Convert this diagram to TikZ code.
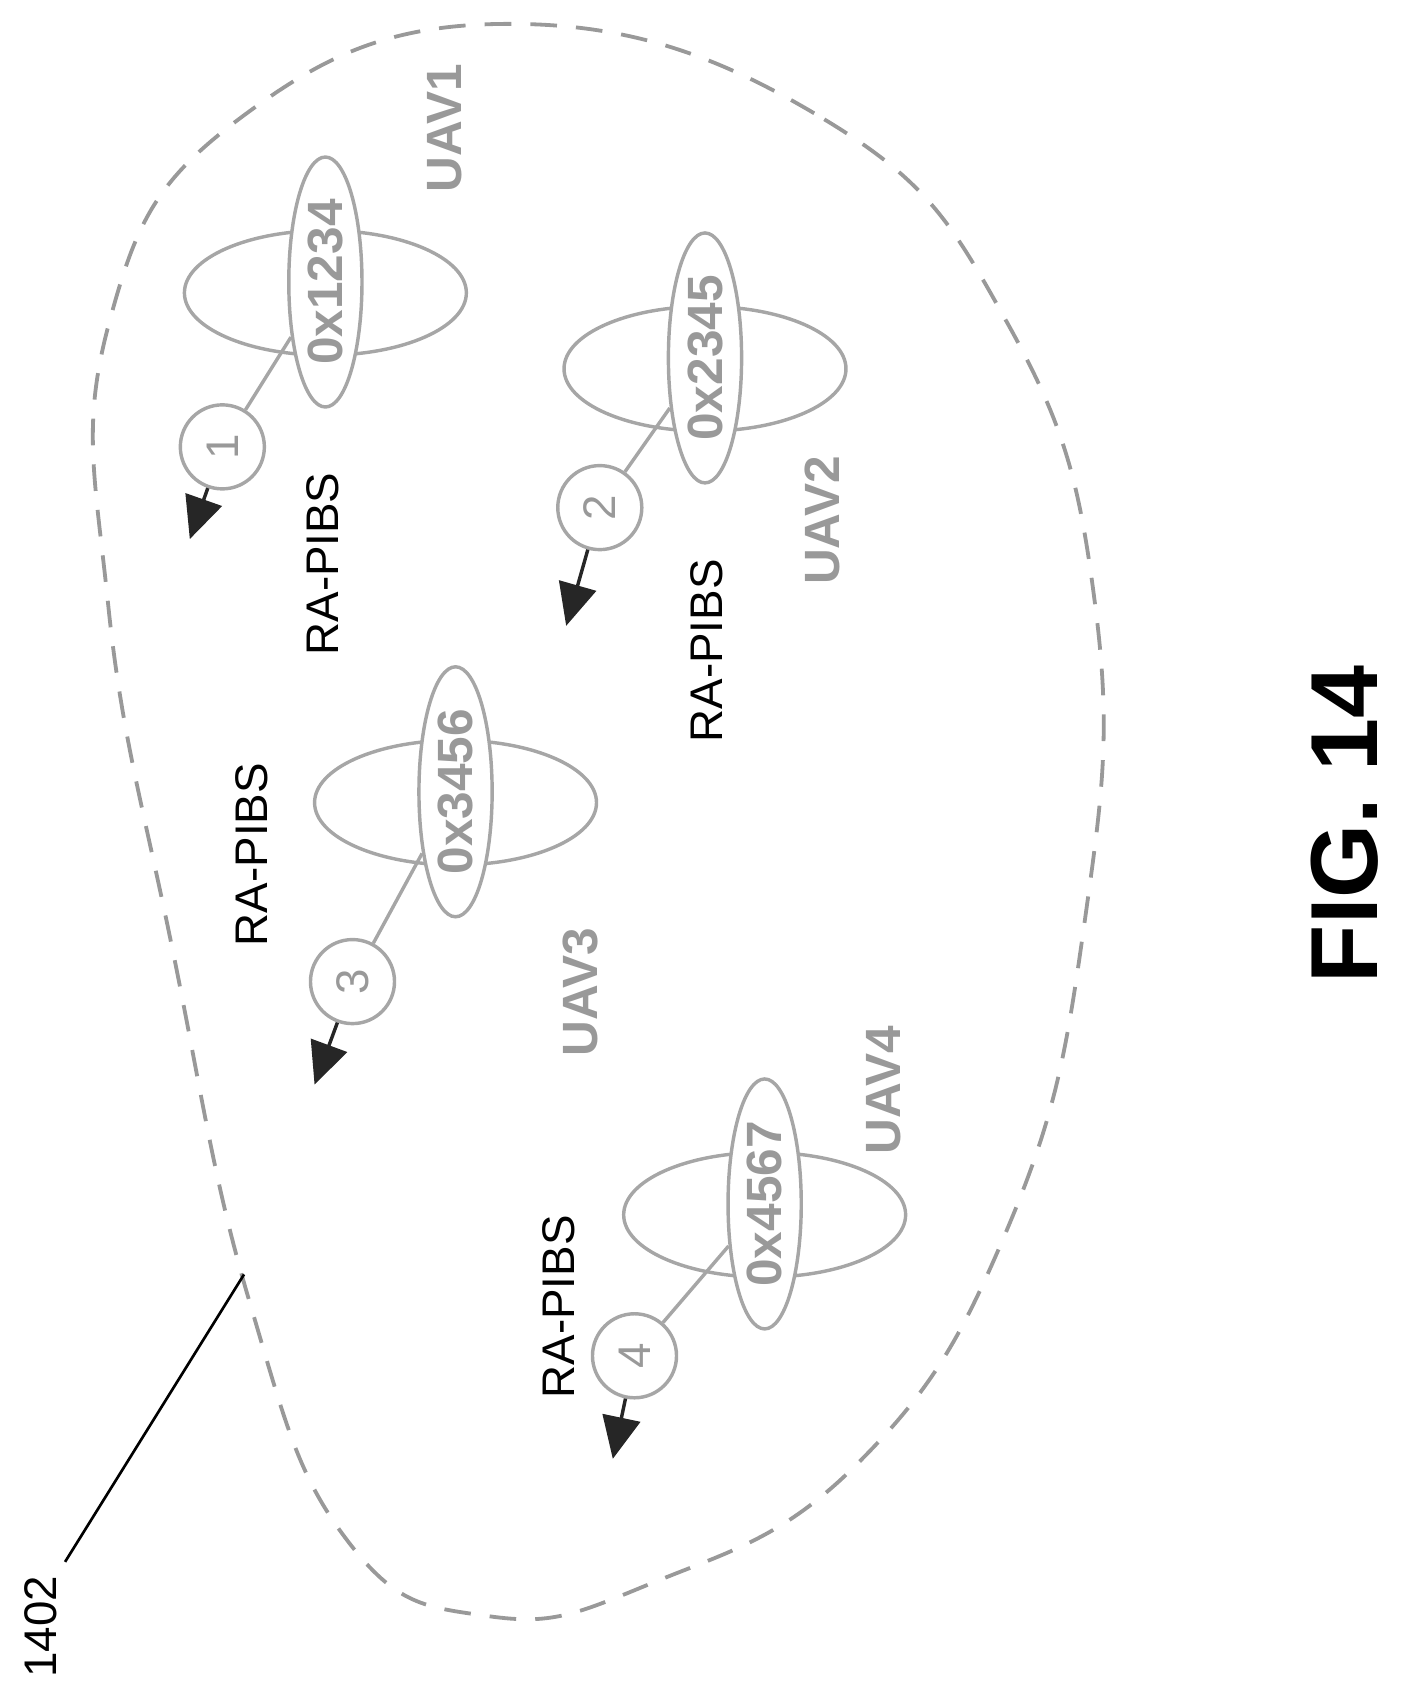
\documentclass[tikz,border=0pt]{standalone}
\usepackage{fontspec}
\setmainfont{Liberation Sans}
\usetikzlibrary{shapes.geometric,arrows.meta}
\begin{document}
\begin{tikzpicture}[x=0.02cm,y=-0.02cm,
    area/.style={draw=gray!80,line width=2pt,dash pattern=on 14pt off 10pt},
    body/.style={ellipse,draw=gray!70,line width=1.8pt,minimum width=5.2cm,minimum height=2.3cm},
    tag/.style={ellipse,draw=gray!70,line width=1.8pt,fill=white,rotate=90,inner sep=3pt,
      minimum height=1.35cm,text=gray!80,font=\bfseries\fontsize{26}{30}\selectfont},
    num/.style={circle,draw=gray!70,line width=1.8pt,fill=white,minimum size=1.55cm,rotate=90,
      text=gray!80,font=\fontsize{24}{28}\selectfont},
    lbl/.style={rotate=90,font=\fontsize{24}{28}\selectfont},
    uav/.style={rotate=90,text=gray!80,font=\bfseries\fontsize{26}{30}\selectfont}]
  \useasboundingbox (0,0) rectangle (1300,1560);

  % the area
  \draw[area] plot[smooth cycle,tension=0.75] coordinates {(470,22) (760,110) (930,300)
    (1010,560) (1000,850) (930,1130) (790,1350) (600,1460) (450,1490) (320,1420)
    (230,1200) (160,880) (100,560) (100,300) (220,110)};
  \coordinate (edge) at (225,1175);
  \node[lbl] (ref) at (38,1500) {1402};
  \draw[line width=1.4pt] (edge) -- (60,1440);

  % the drones
  \foreach \n/\x/\y/\cx/\cy/\tx/\ty/\id/\ux/\uy/\rx/\ry in
     {1/300/260/205/412/175/497/1234/410/118/298/520,
      2/650/330/553/468/522/577/2345/758/480/652/600,
      3/420/730/325/905/290/1000/3456/535/915/232/788,
      4/705/1110/585/1250/565/1345/4567/815/1005/515/1205} {
    \node[body] (b\n) at (\x,\y+10) {};
    \node[tag] (t\n) at (\x,\y) {0x\id};
    \node[num] (c\n) at (\cx,\cy) {\n};
    \coordinate (a\n) at (\tx,\ty);
    \draw[gray!70,line width=1.8pt] (c\n) -- (t\n);
    \draw[-{Triangle[length=22pt,width=20pt]},line width=1.8pt,black!85] (c\n) -- (a\n);
    \node[uav] (u\n) at (\ux,\uy) {UAV\n};
    \node[lbl] (r\n) at (\rx,\ry) {RA-PIBS};
  }

  \node[lbl,font=\bfseries\fontsize{50}{56}\selectfont] (fig) at (1240,760) {FIG. 14};
\end{tikzpicture}
\end{document}
